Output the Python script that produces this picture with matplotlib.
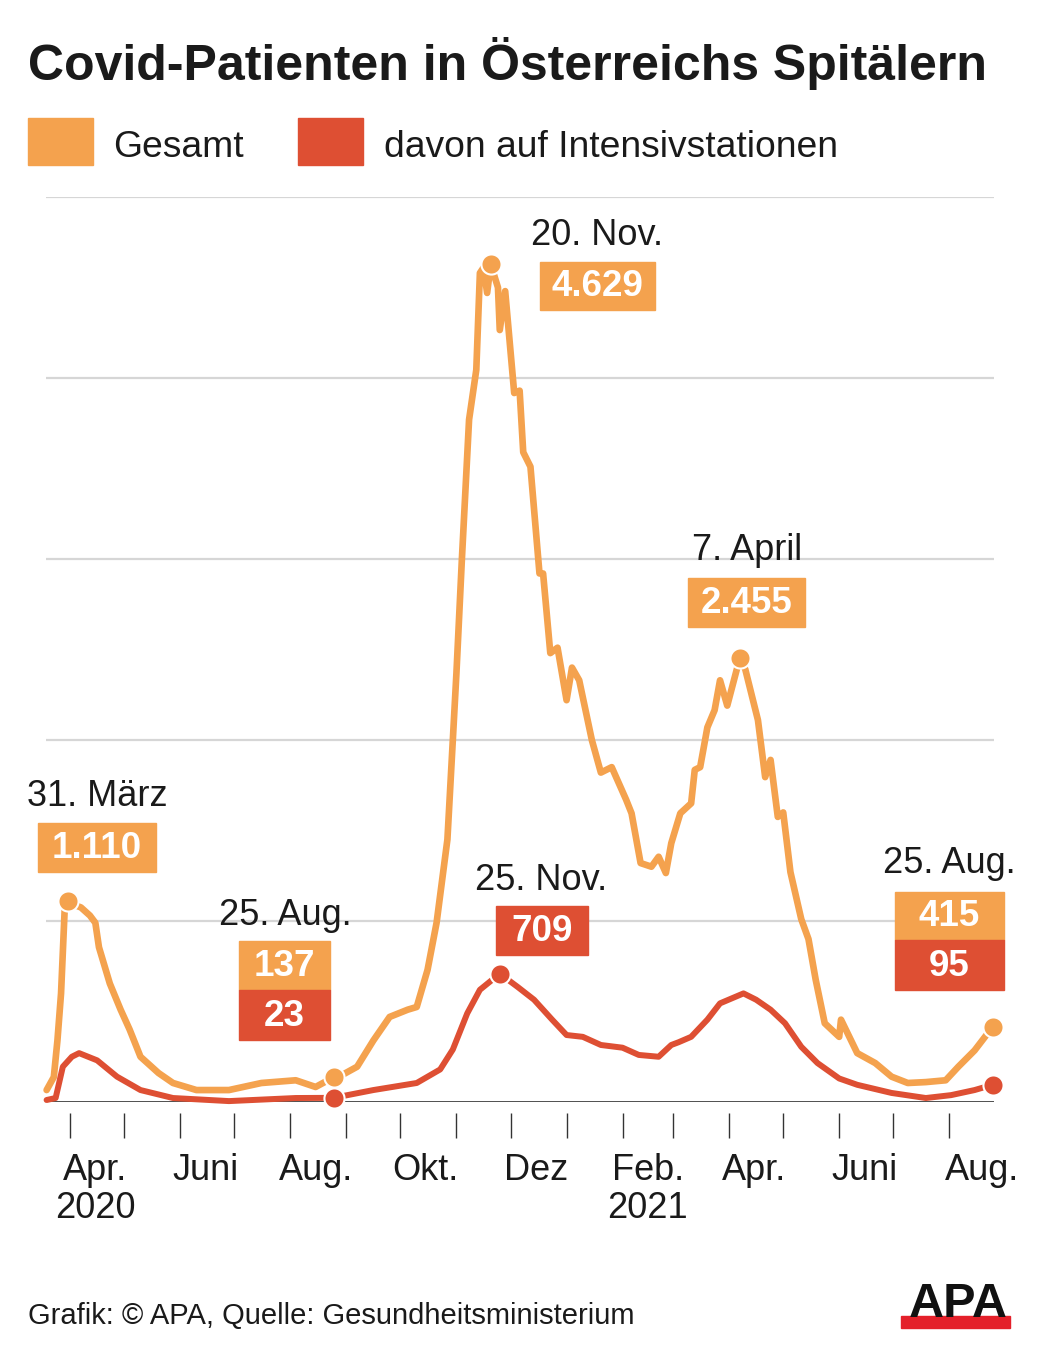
import pandas as pd
import matplotlib.pyplot as plt
import matplotlib.dates as mdates
from matplotlib.patches import Rectangle

plt.rcParams['font.family'] = ['Liberation Sans', 'DejaVu Sans']

# Gesamt (all covid patients in hospital)
gesamt_dates = ['2020-03-19', '2020-03-23', '2020-03-25', '2020-03-27', '2020-03-29', '2020-03-31',
                '2020-04-03', '2020-04-07', '2020-04-12', '2020-04-15', '2020-04-17', '2020-04-23',
                '2020-04-29', '2020-05-04', '2020-05-10', '2020-05-20', '2020-05-28', '2020-06-10',
                '2020-06-28', '2020-07-16', '2020-08-04', '2020-08-15', '2020-08-25', '2020-08-28',
                '2020-09-07', '2020-09-16', '2020-09-25', '2020-10-05', '2020-10-10', '2020-10-16',
                '2020-10-21', '2020-10-27', '2020-10-30', '2020-11-01', '2020-11-04', '2020-11-08',
                '2020-11-12', '2020-11-14', '2020-11-16', '2020-11-18', '2020-11-20', '2020-11-24',
                '2020-11-25', '2020-11-28', '2020-12-03', '2020-12-06', '2020-12-08', '2020-12-12',
                '2020-12-17', '2020-12-19', '2020-12-23', '2020-12-27', '2021-01-01', '2021-01-04',
                '2021-01-08', '2021-01-15', '2021-01-20', '2021-01-26', '2021-02-03', '2021-02-06',
                '2021-02-11', '2021-02-17', '2021-02-21', '2021-02-25', '2021-02-28', '2021-03-05',
                '2021-03-11', '2021-03-13', '2021-03-16', '2021-03-20', '2021-03-24', '2021-03-27',
                '2021-03-31', '2021-04-07', '2021-04-10', '2021-04-17', '2021-04-21', '2021-04-24',
                '2021-04-28', '2021-05-01', '2021-05-05', '2021-05-11', '2021-05-15', '2021-05-19',
                '2021-05-24', '2021-06-01', '2021-06-02', '2021-06-11', '2021-06-21', '2021-06-30',
                '2021-07-09', '2021-07-19', '2021-07-30', '2021-08-06', '2021-08-15', '2021-08-25']
gesamt = [66, 138, 340, 600, 1060, 1110,
          1090, 1075, 1030, 990, 855, 655,
          510, 400, 250, 160, 105, 66,
          66, 105, 120, 83, 137, 140,
          195, 340, 470, 510, 525, 730,
          990, 1450, 2000, 2370, 2995, 3770,
          4045, 4580, 4610, 4470, 4629, 4500,
          4265, 4480, 3917, 3930, 3590, 3510,
          2920, 2920, 2480, 2510, 2220, 2400,
          2330, 2000, 1820, 1850, 1670, 1595,
          1320, 1300, 1355, 1265, 1430, 1595,
          1650, 1835, 1850, 2070, 2165, 2330,
          2190, 2455, 2390, 2110, 1795, 1890,
          1575, 1600, 1270, 1010, 900, 675,
          435, 360, 455, 270, 215, 140,
          105, 110, 120, 195, 285, 415]

# davon auf Intensivstationen
icu_dates = ['2020-03-19', '2020-03-24', '2020-03-28', '2020-04-02', '2020-04-06', '2020-04-16',
             '2020-04-27', '2020-05-10', '2020-05-28', '2020-06-28', '2020-08-04', '2020-08-25',
             '2020-09-16', '2020-10-10', '2020-10-23', '2020-10-30', '2020-11-07', '2020-11-14',
             '2020-11-25', '2020-12-05', '2020-12-14', '2020-12-24', '2021-01-01', '2021-01-10',
             '2021-01-20', '2021-02-01', '2021-02-10', '2021-02-21', '2021-02-28', '2021-03-04',
             '2021-03-11', '2021-03-20', '2021-03-27', '2021-04-09', '2021-04-16', '2021-04-24',
             '2021-05-02', '2021-05-11', '2021-05-20', '2021-06-01', '2021-06-11', '2021-06-30',
             '2021-07-19', '2021-08-02', '2021-08-15', '2021-08-25']
icu = [11, 22, 195, 250, 270, 230,
       140, 66, 22, 5, 22, 23,
       66, 105, 180, 290, 490, 620,
       709, 635, 565, 455, 370, 360,
       315, 300, 260, 250, 315, 330,
       360, 455, 545, 600, 565, 510,
       435, 305, 215, 130, 95, 50,
       22, 38, 66, 95]

gesamt_marks = ['2020-03-31', '2020-08-25', '2020-11-20', '2021-04-07', '2021-08-25']
icu_marks = ['2020-08-25', '2020-11-25', '2021-08-25']

month_labels = ['Apr.\n2020', 'Juni', 'Aug.', 'Okt.', 'Dez', 'Feb.\n2021', 'Apr.', 'Juni', 'Aug.']
label_dates = ['2020-04-15', '2020-06-15', '2020-08-15', '2020-10-15', '2020-12-15',
               '2021-02-15', '2021-04-15', '2021-06-15', '2021-08-19']

ORANGE = '#f4a24e'
RED = '#de4f33'
TXT = '#1a1a1a'
W, H = 1040, 1347


def fx(x):
    return x / W


def fy(y):
    return 1 - y / H


fig = plt.figure(figsize=(W / 100, H / 100), dpi=100)
ax = fig.add_axes([fx(46), fy(1102), (994 - 46) / W, (1102 - 197) / H])

g = pd.Series(gesamt, index=pd.to_datetime(gesamt_dates))
i = pd.Series(icu, index=pd.to_datetime(icu_dates))

ax.axhline(0, color=TXT, lw=1.8, zorder=2)
ax.plot(g.index, g.values, color=ORANGE, lw=4.8, solid_joinstyle='round',
        solid_capstyle='round', zorder=3, clip_on=False)
ax.plot(i.index, i.values, color=RED, lw=4.3, solid_joinstyle='round',
        solid_capstyle='round', zorder=4, clip_on=False)

gm = g[pd.to_datetime(gesamt_marks)]
im = i[pd.to_datetime(icu_marks)]
ax.plot(gm.index, gm.values, 'o', ms=14.5, color=ORANGE, mec='white', mew=1.5,
        zorder=5, clip_on=False)
ax.plot(im.index, im.values, 'o', ms=14.5, color=RED, mec='white', mew=1.5,
        zorder=6, clip_on=False)

ax.set_xlim(pd.Timestamp('2020-03-18 16:00'), pd.Timestamp('2021-08-25 18:00'))
ax.set_ylim(0, 5000)
ax.set_yticks([1000, 2000, 3000, 4000, 5000])
ax.yaxis.grid(True, color='#d6d6d6', lw=1.6)
ax.tick_params(axis='y', length=0, labelleft=False)
ax.set_axisbelow(True)
for s in ['top', 'right', 'left', 'bottom']:
    ax.spines[s].set_visible(False)
ax.spines['bottom'].set_position(('outward', 8))

ax.xaxis.set_major_locator(mdates.MonthLocator(bymonthday=1))
ax.xaxis.set_major_formatter(plt.NullFormatter())
ax.set_xticks(pd.to_datetime(label_dates), minor=True)
ax.set_xticklabels(month_labels, minor=True, fontsize=26, color=TXT, linespacing=1.1)
ax.tick_params(axis='x', which='major', length=18, width=1.0, color='#333333', direction='out')
ax.tick_params(axis='x', which='minor', length=0, pad=29)

# title and legend
fig.text(fx(28), fy(80), 'Covid-Patienten in Österreichs Spitälern', fontsize=36,
         fontweight='bold', color=TXT, va='baseline', ha='left')
fig.patches.append(Rectangle((fx(28), fy(165)), 65 / W, 47 / H, transform=fig.transFigure,
                             color=ORANGE, figure=fig))
fig.patches.append(Rectangle((fx(298), fy(165)), 65 / W, 47 / H, transform=fig.transFigure,
                             color=RED, figure=fig))
fig.text(fx(113), fy(157), 'Gesamt', fontsize=26.8, color=TXT, va='baseline')
fig.text(fx(384), fy(157), 'davon auf Intensivstationen', fontsize=26.8, color=TXT, va='baseline')

# annotation labels
dates_txt = [('31. März', 97, 806), ('25. Aug.', 285, 925), ('20. Nov.', 597, 245),
             ('25. Nov.', 541, 890), ('7. April', 747, 560), ('25. Aug.', 949, 873)]
for t, x, y in dates_txt:
    fig.text(fx(x), fy(y), t, fontsize=26, color=TXT, ha='center', va='baseline')

boxes = [('1.110', 38, 823, 118, 49, ORANGE), ('4.629', 540, 262, 115, 48, ORANGE),
         ('2.455', 688, 578, 117, 49, ORANGE), ('709', 496, 906, 92, 49, RED),
         ('137', 239, 941, 91, 49, ORANGE), ('23', 239, 990, 91, 50, RED),
         ('415', 895, 892, 109, 48, ORANGE), ('95', 895, 940, 109, 50, RED)]
for t, x, y, w, h, c in boxes:
    fig.patches.append(Rectangle((fx(x), fy(y + h)), w / W, h / H, transform=fig.transFigure,
                                 color=c, figure=fig))
    fig.text(fx(x + w / 2), fy(y + h / 2 + 1), t, fontsize=26.5, fontweight='bold', color='white',
             ha='center', va='center')

# footer
fig.text(fx(28), fy(1324), 'Grafik: © APA, Quelle: Gesundheitsministerium', fontsize=21,
         color=TXT, va='baseline')
fig.patches.append(Rectangle((fx(901), fy(1328)), 109 / W, 12 / H, transform=fig.transFigure,
                             color='#e4202a', figure=fig))
fig.text(fx(958), fy(1317), 'APA', fontsize=35, fontweight='heavy', color='#111111',
         ha='center', va='baseline')

fig.savefig('out.png', dpi=100)
